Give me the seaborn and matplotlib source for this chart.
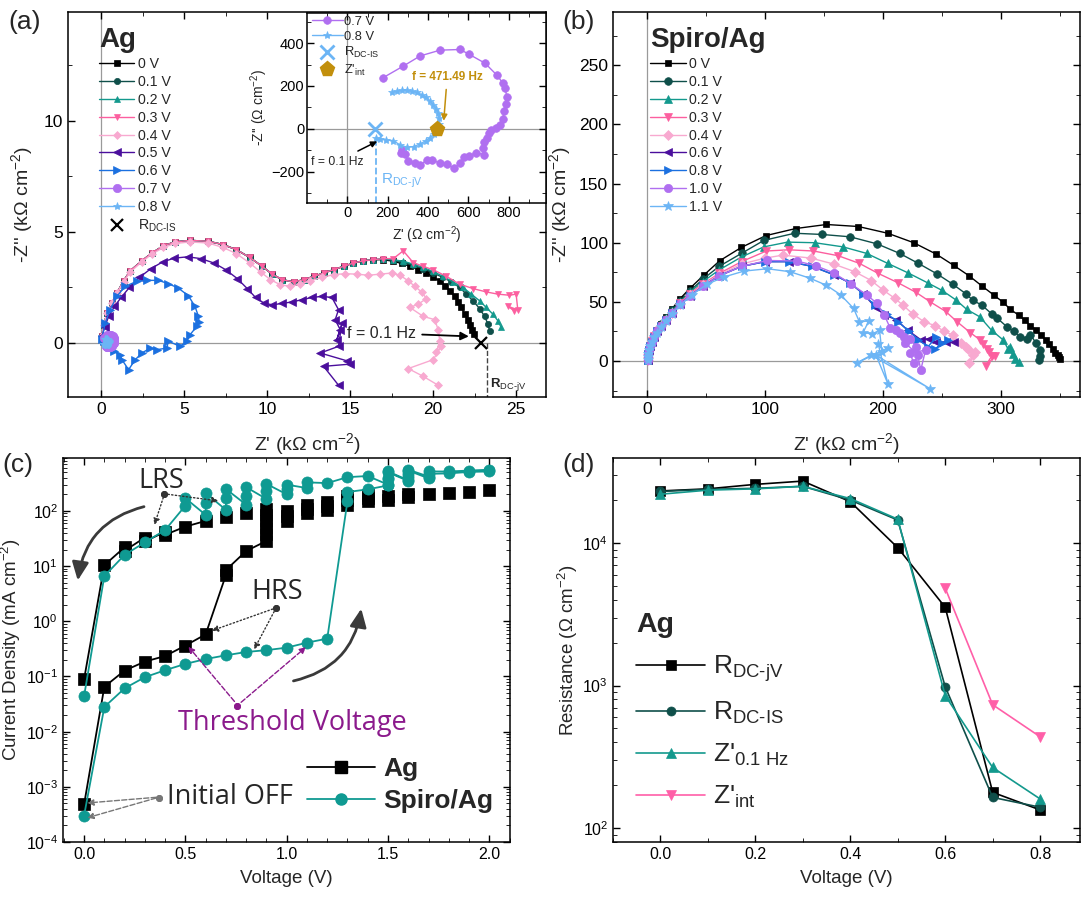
import matplotlib
matplotlib.use("Agg")
import matplotlib.pyplot as plt
import matplotlib.ticker as mticker
from matplotlib.lines import Line2D
from matplotlib.patches import FancyArrowPatch
import seaborn as sns

# ---------------- data ----------------
# (a) Ag impedance, kOhm cm^-2 ; shared first arc of 0-0.3 V
hump_x = [0.05, 0.15, 0.35, 0.65, 0.95, 1.35, 1.75, 2.45, 3.05, 3.75, 4.45, 5.35, 6.45, 7.35,
          8.15, 8.95, 9.7, 10.3, 10.9, 11.6, 12.2, 12.8, 13.4, 14.0, 14.6, 15.2, 15.8, 16.4]
hump_y = [0.3, 0.8, 1.35, 1.8, 2.25, 2.8, 3.25, 3.7, 4.05, 4.38, 4.55, 4.62, 4.58, 4.43,
          4.2, 3.85, 3.45, 3.1, 2.85, 2.75, 2.85, 3.0, 3.15, 3.3, 3.45, 3.6, 3.7, 3.75]
a00_tail_x = [17.0, 17.6, 18.1, 18.6, 19.1, 19.6, 20.0, 20.4, 20.7, 21.0, 21.3, 21.5, 21.7, 21.9, 22.1, 22.25, 22.35, 22.45]
a00_tail_y = [3.75, 3.68, 3.58, 3.45, 3.3, 3.15, 2.98, 2.78, 2.58, 2.35, 2.1, 1.85, 1.6, 1.3, 1.05, 0.8, 0.6, 0.42]
a01_tail_x = [17.0, 17.6, 18.2, 18.8, 19.4, 20.0, 20.6, 21.1, 21.6, 22.0, 22.4, 22.8, 23.1, 23.3, 23.4]
a01_tail_y = [3.78, 3.72, 3.62, 3.5, 3.35, 3.15, 2.95, 2.75, 2.5, 2.2, 1.9, 1.55, 1.2, 0.85, 0.55]
a02_tail_x = [17.0, 17.6, 18.2, 18.8, 19.4, 20.0, 20.6, 21.2, 21.8, 22.3, 22.8, 23.2, 23.6, 23.9, 24.1]
a02_tail_y = [3.8, 3.75, 3.68, 3.55, 3.4, 3.22, 3.0, 2.75, 2.5, 2.2, 1.9, 1.6, 1.3, 1.0, 0.7]
a03_tail_x = [17.0, 17.6, 18.2, 18.8, 19.4, 20.0, 20.8, 21.6, 22.4, 23.2, 23.9, 24.6, 25.0, 25.1, 24.5, 24.9]
a03_tail_y = [3.8, 3.8, 4.15, 3.62, 3.45, 3.3, 3.0, 2.65, 2.45, 2.3, 2.2, 2.15, 2.2, 1.5, 1.65, 1.45]
a04_x = [0.05, 0.15, 0.35, 0.65, 0.95, 1.35, 1.75, 2.45, 3.05, 3.75, 4.45, 5.35, 6.45, 7.35, 8.15, 8.95,
         9.6, 10.2, 10.8, 11.4, 12.0, 12.6, 13.3, 14.0, 14.7, 15.4, 16.1, 16.8, 17.5, 18.0, 18.5, 18.9,
         19.3, 19.6, 19.1, 18.6, 19.4, 20.1, 20.3, 20.4, 20.2, 20.5, 20.0, 18.5, 19.4, 20.3]
a04_y = [0.3, 0.8, 1.35, 1.8, 2.25, 2.75, 3.2, 3.65, 4.0, 4.3, 4.48, 4.55, 4.5, 4.3, 4.02, 3.6,
         3.2, 2.85, 2.62, 2.55, 2.65, 2.8, 2.95, 3.08, 3.12, 3.1, 3.05, 3.1, 3.15, 3.05, 2.8, 2.55,
         2.3, 2.0, 1.75, 1.6, 1.2, 1.05, 0.6, 0.1, -0.4, -0.15, -0.75, -1.15, -1.5, -1.9]
a05_x = [0.05, 0.2, 0.45, 0.8, 1.2, 1.7, 2.3, 3.0, 3.7, 4.4, 5.2, 6.0, 6.8, 7.5, 8.2, 8.8, 9.3, 9.8,
         10.3, 10.9, 11.5, 12.1, 12.7, 13.3, 13.9, 14.3, 14.1, 14.4, 14.2, 14.5, 14.3, 13.2, 14.8, 15.0, 13.4, 14.3]
a05_y = [0.3, 0.7, 1.2, 1.65, 2.05, 2.5, 2.95, 3.35, 3.65, 3.82, 3.88, 3.8, 3.6, 3.3, 2.9, 2.45, 2.05, 1.8,
         1.72, 1.78, 1.85, 1.95, 2.05, 2.1, 2.05, 1.5, 1.05, 0.6, 0.15, 0.9, -0.15, -0.45, -0.8, -0.95, -1.05, -1.9]
a06_x = [0.04, 0.24, 0.54, 0.94, 1.45, 2.15, 2.75, 3.45, 4.05, 4.65, 5.25, 5.65, 5.86, 5.9, 5.76,
         5.36, 5.16, 4.75, 4.05, 3.95, 3.35, 2.95, 2.45, 2.05, 1.65, 1.25, 1.15, 0.75, 0.44, 0.14]
a06_y = [0.2, 0.9, 1.5, 2.1, 2.55, 2.78, 2.82, 2.82, 2.67, 2.47, 2.13, 1.65, 1.2, 0.95, 0.75,
         0.38, 0.08, -0.15, 0.08, -0.23, -0.3, -0.23, -0.45, -0.75, -1.2, -0.75, -0.53, -0.38, -0.15, 0.08]
# inset, Ohm cm^-2
in07_x = [178, 278, 361, 460, 559, 605, 683, 741, 770, 783, 790, 785, 778, 770, 755, 735, 712, 700, 692,
          680, 675, 678, 640, 605, 580, 559, 528, 495, 460, 420, 394, 360, 336, 300, 286, 270, 268]
in07_y = [239, 293, 340, 367, 370, 347, 306, 251, 215, 190, 150, 115, 85, 45, 20, 5, -5, -20, -40,
          -60, -90, -120, -110, -125, -130, -160, -183, -165, -160, -145, -144, -170, -160, -150, -115, -100, -110]
in08_x = [141, 160, 190, 228, 262, 295, 330, 361, 390, 410, 428, 440, 450, 455, 452, 448, 440, 427,
          410, 390, 369, 345, 320, 295, 270, 245, 220]
in08_y = [-40, -45, -50, -55, -75, -85, -82, -70, -55, -40, -25, -10, 5, 25, 50, 75, 95, 112,
          130, 148, 160, 170, 176, 180, 180, 176, 170]
rdcis_kohm = 22.9
rdcjv_kohm = 23.25
rdcis_ohm = 137
rdcjv_ohm = 141
zint_ohm = 444

# (b) Spiro/Ag impedance, kOhm cm^-2
b00_x = [0.3, 0.6, 1, 1.5, 2.5, 4, 6, 8.5, 12, 16, 21, 27.6, 36.7, 48, 61.4, 79.8, 100.6, 126, 152, 179, 204,
         226, 245, 260, 273, 284, 294, 302, 308, 315, 320, 325, 330, 334, 338, 341, 344, 346, 348, 349, 350]
b00_y = [0.5, 3, 6, 9, 13, 17, 21, 26, 31, 37, 44, 52.4, 61.9, 72.6, 84.7, 96, 106, 112, 115.4, 113.7, 108,
         100, 90.4, 80.8, 72, 63.3, 55.7, 49.5, 43.6, 38.8, 34.6, 30, 26, 22, 18, 14, 10, 7, 5, 3, 1.5]
b01_x = [0.3, 0.6, 1, 1.5, 2.5, 4, 6, 8.5, 12, 16, 21, 28, 36, 47, 61, 80, 99, 125, 148, 172, 195, 214,
         230, 246, 259, 270, 276, 284, 292, 297, 305, 311, 316, 322, 325, 330, 333, 333, 332]
b01_y = [0.5, 3, 6, 9, 13, 17, 21, 26, 31, 36, 43, 51, 59, 69, 80, 91, 102, 108, 107, 105, 99, 91,
         82.5, 73.5, 65, 57, 51.5, 47, 40, 36, 29, 25, 20.5, 19, 22, 15, 9, 4, 1]
b02_x = [0.3, 0.6, 1, 1.5, 2.5, 4, 6, 8.5, 12, 16, 21, 28, 36, 47, 61, 80, 99, 119, 142, 166, 186, 204,
         221, 238, 250, 262, 271, 282, 292, 302, 306, 310, 312, 315, 308]
b02_y = [0.5, 3, 6, 9, 13, 17, 21, 26, 31, 36, 42, 50, 58, 67, 77, 88, 96.5, 100.5, 100, 96.5, 91, 82.5,
         74.6, 66, 59.7, 51.5, 43.6, 37.4, 26, 17.7, 10, 6, 2, -1, 12]
b03_x = [0.3, 0.6, 1, 1.5, 2.5, 4, 6, 8.5, 12, 16, 21, 28, 36, 47, 61, 80, 101, 120, 141, 162, 180, 196,
         213, 228, 240, 253, 263, 274, 282, 288, 292, 287, 295, 290, 285]
b03_y = [0.5, 3, 6, 9, 13, 17, 21, 25, 30, 35, 41, 49, 57, 65, 74, 84, 93, 94, 93, 89, 82.5, 74,
         66, 58, 50, 42, 33, 24, 18, 10, 4, -4, 4, 8, 14]
b04_x = [0.3, 0.6, 1, 1.5, 2.5, 4, 6, 8.5, 12, 16, 21, 28, 36, 47, 61, 80, 100, 115, 139, 158, 176, 190,
         200, 210, 217, 225, 235, 244, 252, 259, 266, 272, 276, 273, 278, 270]
b04_y = [0.5, 3, 6, 9, 13, 17, 21, 25, 30, 35, 41, 48, 56, 64, 73, 82, 87, 89.5, 87, 82, 75.5, 68,
         60, 53, 47, 40, 33, 30, 25, 22, 15, 10, 5, -2, 8, 12]
b06_x = [0.3, 0.6, 1, 1.5, 2.5, 4, 6, 8.5, 12, 16, 21, 28, 36, 47, 61, 80, 100, 120, 140, 158, 172, 183,
         193, 201, 211, 221, 232, 239, 245, 253, 260]
b06_y = [0.5, 3, 6, 9, 12.5, 16.5, 20.5, 25, 30, 35, 41, 48, 55, 63, 72, 80, 84, 84, 80, 73, 66, 57,
         46, 39, 35, 26, 18, 19, 16, 16, 16]
b08_x = [0.3, 0.6, 1, 1.5, 2.5, 4, 6, 8.5, 12, 16, 21, 28, 36, 47, 61, 80, 100, 120, 140, 158, 172, 183,
         193, 203, 213, 222, 230, 238, 245, 250, 244, 255]
b08_y = [0.5, 3, 6, 9, 12.5, 16.5, 20.5, 25, 30, 35, 41, 48, 55, 63, 72, 80, 84, 84, 80, 73, 66, 57,
         47, 40, 33, 25, 18, 12, 20, 15, 10, 18]
b10_x = [0.3, 0.6, 1, 1.5, 2.5, 4, 6, 8.5, 12, 16, 21, 28, 36, 47, 61, 80, 102, 127, 143, 158, 173, 186,
         195, 201, 206, 211, 218, 223, 228, 232, 236, 223, 226, 230, 219, 214]
b10_y = [0.5, 3, 6, 9, 12.5, 16.5, 20.5, 25, 30, 35, 41, 48, 55, 63, 72, 80, 85, 84.5, 80.5, 74.6, 65, 56,
         48.7, 39, 28, 26, 20.5, 19, 12, -7.6, 9.3, 6.5, -2, 5, 15, 24]
b11_x = [0.3, 0.6, 1, 1.5, 2.5, 4, 6, 8.5, 12, 16, 21, 28, 38, 51, 65, 82, 102, 121, 138, 152, 164, 175,
         180, 188, 183, 191, 197, 199, 204, 178, 190, 240, 194, 204, 196]
b11_y = [0.5, 3, 6, 9, 12.5, 16, 20, 24, 29, 34, 40, 47, 56, 65, 71, 76, 78, 75.5, 70, 64, 56, 44.5,
         33, 34, 24, 23, 26, 8, 11, -1.5, 5, -23.5, 5, -19, 14]

# (c) j-V, mA cm^-2
ag_fwd_v = [0.0, 0.1, 0.2, 0.3, 0.4, 0.5, 0.6, 0.7, 0.7, 0.8, 0.9, 0.9, 0.9, 0.9, 0.9, 0.9]
ag_fwd_j = [4.8e-4, 0.065, 0.128, 0.186, 0.235, 0.363, 0.58, 6.9, 8.5, 18.8, 28.6, 38, 50, 65, 85, 110]
ag_hi_v = [1.0, 1.0, 1.0, 1.1, 1.1, 1.1, 1.2, 1.2, 1.2, 1.3, 1.3, 1.3, 1.4, 1.4, 1.4, 1.5, 1.5,
           1.6, 1.6, 1.7, 1.8, 1.9, 2.0, 0.8, 0.7]
ag_hi_j = [65, 80, 100, 92, 110, 128, 105, 125, 145, 130, 160, 185, 150, 175, 195, 160, 190,
           180, 200, 205, 215, 225, 240, 90, 77]
ag_rev_v = [0.6, 0.5, 0.4, 0.4, 0.3, 0.3, 0.2, 0.2, 0.1, 0.0]
ag_rev_j = [66, 52, 37, 42, 28, 33, 19, 22, 10.4, 0.089]
sp_v = [0.0, 0.1, 0.2, 0.3, 0.4, 0.5, 0.6, 0.7, 0.8, 0.9, 1.0, 1.1, 1.2, 1.3, 1.3, 1.4, 1.5, 1.5, 1.5,
        1.6, 1.6, 1.6, 1.7, 1.7, 1.8, 1.9, 2.0, 2.0, 1.9, 1.8, 1.7, 1.7, 1.6, 1.6, 1.6, 1.5, 1.5, 1.5,
        1.4, 1.3, 1.2, 1.1, 1.1, 1.0, 1.0, 1.0, 0.9, 0.9, 0.9, 0.8, 0.8, 0.8, 0.7, 0.7, 0.7,
        0.6, 0.6, 0.6, 0.5, 0.5, 0.4, 0.3, 0.2, 0.1, 0.0]
sp_j = [3.0e-4, 0.028, 0.061, 0.097, 0.13, 0.169, 0.207, 0.242, 0.278, 0.30, 0.333, 0.41, 0.485, 152, 220,
        247, 290, 400, 520, 360, 460, 560, 420, 520, 520, 540, 560, 520, 510, 480, 470, 390, 540, 420, 350,
        500, 380, 300, 430, 410, 320, 330, 260, 300, 250, 200, 310, 230, 165, 270, 190, 130, 250, 170, 105,
        210, 140, 85, 170, 125, 45, 27, 16, 6.6, 0.044]

# (d) resistance vs voltage, Ohm cm^-2
d_v = [0.0, 0.1, 0.2, 0.3, 0.4, 0.5, 0.6, 0.7, 0.8]
r_dcjv = [23200, 24000, 25800, 27200, 19500, 9270, 3540, 178, 134]
r_dcis = [23000, 23800, 24200, 25000, 20000, 14500, 980, 164, 140]
z_01hz = [22000, 23500, 24000, 25000, 20500, 14700, 850, 266, 160]
zint_v = [0.6, 0.7, 0.8]
z_int = [4820, 733, 437]

# ---------------- style ----------------
sns.set_style("ticks")
plt.rcParams['font.family'] = ['Liberation Sans', 'DejaVu Sans']
plt.rcParams.update({
    'mathtext.fontset': 'custom',
    'mathtext.rm': 'Liberation Sans',
    'mathtext.it': 'Liberation Sans:italic',
    'mathtext.bf': 'Liberation Sans:bold',
    'xtick.direction': 'in', 'ytick.direction': 'in',
    'xtick.top': True, 'ytick.right': True,
    'axes.linewidth': 1.1,
    'xtick.major.size': 5, 'ytick.major.size': 5,
    'xtick.minor.size': 3, 'ytick.minor.size': 3,
    'xtick.major.width': 1.0, 'ytick.major.width': 1.0,
    'xtick.color': 'black', 'ytick.color': 'black',
    'axes.edgecolor': 'black',
})

BLACK = 'black'
DTEAL = '#0f4f4a'
TEAL = '#13998d'
PINK = '#fc5f9f'
LPINK = '#f8a9d0'
INDIGO = '#4a0e9c'
BLUE = '#1b70e0'
LAV = '#b06ff0'
LBLUE = '#6cb5f5'
GOLD = '#c28f0c'
PURPLE = '#8b1a8c'
SPIRO = '#0f9a92'
GREY = '#9a9a9a'

W, H = 1086, 898
fig = plt.figure(figsize=(W / 100, H / 100), dpi=100)


def px_axes(l, t, r, b):
    return fig.add_axes([l / W, 1 - b / H, (r - l) / W, (b - t) / H])


def curve(ax, x, y, color, marker, ms, label=None, lw=1.0, z=2):
    sns.lineplot(x=x, y=y, ax=ax, sort=False, estimator=None, color=color,
                 marker=marker, markersize=ms, markeredgecolor=color,
                 markeredgewidth=0.5, linewidth=lw, label=label, legend=False, zorder=z)


sub_is = r"R$_{\rm DC\text{-}IS}$"
sub_jv = r"R$_{\rm DC\text{-}jV}$"

# ---------------- (a) ----------------
ax_a = px_axes(68, 12, 546, 397)
ax_a.axhline(0, color=GREY, lw=0.9, zorder=0)
ax_a.axvline(0, color=GREY, lw=0.9, zorder=0)
curve(ax_a, hump_x + a00_tail_x, hump_y + a00_tail_y, BLACK, 's', 4.5, '0 V')
curve(ax_a, hump_x + a01_tail_x, hump_y + a01_tail_y, DTEAL, 'o', 4.5, '0.1 V')
curve(ax_a, hump_x + a02_tail_x, hump_y + a02_tail_y, TEAL, '^', 5, '0.2 V')
curve(ax_a, hump_x + a03_tail_x, hump_y + a03_tail_y, PINK, 'v', 5, '0.3 V')
curve(ax_a, a04_x, a04_y, LPINK, 'D', 4, '0.4 V')
curve(ax_a, a05_x, a05_y, INDIGO, '<', 5.5, '0.5 V')
curve(ax_a, a06_x, a06_y, BLUE, '>', 5.5, '0.6 V')
curve(ax_a, [v / 1000 for v in in07_x], [v / 1000 for v in in07_y], LAV, 'o', 6, '0.7 V')
curve(ax_a, [v / 1000 for v in in08_x], [v / 1000 for v in in08_y], LBLUE, '*', 6, '0.8 V')
ax_a.plot([rdcis_kohm], [0], marker='x', color=BLACK, ms=9, mew=1.6, ls='none', zorder=4)
ax_a.plot([rdcjv_kohm, rdcjv_kohm], [0, -2.45], color='#444444', ls='--', lw=1.0, zorder=1)
ax_a.text(23.45, -1.85, sub_jv, fontsize=9.5, fontweight='bold', va='center', ha='left')
ax_a.annotate('f = 0.1 Hz', xy=(22.15, 0.3), xytext=(16.9, 0.45), fontsize=11.5, ha='center', va='center',
              zorder=6,
              arrowprops=dict(arrowstyle='-|>', color='black', lw=1.3, shrinkA=2, shrinkB=0, mutation_scale=12))
ax_a.set_xlim(-2, 26.8)
ax_a.set_ylim(-2.43, 14.9)
ax_a.xaxis.set_major_locator(mticker.MultipleLocator(5))
ax_a.xaxis.set_minor_locator(mticker.MultipleLocator(2.5))
ax_a.yaxis.set_major_locator(mticker.MultipleLocator(5))
ax_a.yaxis.set_minor_locator(mticker.MultipleLocator(2.5))
ax_a.tick_params(labelsize=12.5)
ax_a.set_xlabel("Z' (k\u03a9 cm$^{-2}$)", fontsize=14, labelpad=10)
ax_a.set_ylabel("-Z'' (k\u03a9 cm$^{-2}$)", fontsize=14, labelpad=6)
h, l = ax_a.get_legend_handles_labels()
h.append(Line2D([], [], color=BLACK, marker='x', ls='none', ms=9, mew=1.6))
l.append(sub_is)
ax_a.legend(h, l, title='Ag', loc='upper left', bbox_to_anchor=(0.065, 0.96), frameon=False,
            fontsize=10.2, handlelength=2.5, handletextpad=0.25, labelspacing=0.27, borderaxespad=0,
            borderpad=0, alignment='left', title_fontproperties={'weight': 'bold', 'size': 20})

# inset
ax_in = px_axes(307, 13, 546, 203)
ax_in.set_zorder(5)
ax_in.axhline(0, color=GREY, lw=0.9, zorder=0)
ax_in.axvline(0, color=GREY, lw=0.9, zorder=0)
curve(ax_in, in07_x, in07_y, LAV, 'o', 5.5, '0.7 V')
curve(ax_in, in08_x, in08_y, LBLUE, '*', 6, '0.8 V')
ax_in.plot([rdcjv_ohm, rdcjv_ohm], [-45, -345], color=LBLUE, ls='--', lw=1.3, zorder=1)
ax_in.plot([rdcis_ohm], [0], marker='x', color=LBLUE, ms=10, mew=2, ls='none', zorder=4)
ax_in.plot([zint_ohm], [0], marker='p', color=GOLD, ms=11, ls='none', zorder=4)
ax_in.annotate('f = 471.49 Hz', xy=(478, 38), xytext=(495, 240), fontsize=8.5, fontweight='bold', color=GOLD,
               ha='center', va='center',
               arrowprops=dict(arrowstyle='-|>', color=GOLD, lw=1.1, shrinkA=2, shrinkB=0, mutation_scale=9))
ax_in.annotate('f = 0.1 Hz', xy=(148, -58), xytext=(-52, -152), fontsize=8.7, ha='center', va='center',
               arrowprops=dict(arrowstyle='-|>', color='black', lw=1.1, shrinkA=2, shrinkB=0, mutation_scale=9))
ax_in.text(165, -240, sub_jv, fontsize=11, color=LBLUE, ha='left', va='center')
ax_in.set_xlim(-200, 985)
ax_in.set_ylim(-345, 540)
ax_in.xaxis.set_major_locator(mticker.FixedLocator([0, 200, 400, 600, 800]))
ax_in.xaxis.set_minor_locator(mticker.FixedLocator([-100, 100, 300, 500, 700, 900]))
ax_in.yaxis.set_major_locator(mticker.FixedLocator([-200, 0, 200, 400]))
ax_in.yaxis.set_minor_locator(mticker.FixedLocator([-300, -100, 100, 300, 500]))
ax_in.tick_params(labelsize=10.5, pad=2)
ax_in.set_xlabel("Z' (\u03a9 cm$^{-2}$)", fontsize=10, labelpad=3)
ax_in.set_ylabel("-Z'' (\u03a9 cm$^{-2}$)", fontsize=10, labelpad=1)
h, l = ax_in.get_legend_handles_labels()
h += [Line2D([], [], color=LBLUE, marker='x', ls='none', ms=10, mew=2),
      Line2D([], [], color=GOLD, marker='p', ls='none', ms=11)]
l += [sub_is, "Z'$_{\\rm int}$"]
ax_in.legend(h, l, loc='upper left', bbox_to_anchor=(0.02, 0.985), frameon=False, fontsize=9.3,
             handlelength=2.4, handletextpad=0.1, labelspacing=0.2, borderaxespad=0, borderpad=0)

# ---------------- (b) ----------------
ax_b = px_axes(613, 12, 1080, 397)
ax_b.axhline(0, color=GREY, lw=0.9, zorder=0)
ax_b.axvline(0, color=GREY, lw=0.9, zorder=0)
curve(ax_b, b00_x, b00_y, BLACK, 's', 5, '0 V')
curve(ax_b, b01_x, b01_y, DTEAL, 'o', 5.5, '0.1 V')
curve(ax_b, b02_x, b02_y, TEAL, '^', 6, '0.2 V')
curve(ax_b, b03_x, b03_y, PINK, 'v', 6, '0.3 V')
curve(ax_b, b04_x, b04_y, LPINK, 'D', 5, '0.4 V')
curve(ax_b, b06_x, b06_y, INDIGO, '<', 6, '0.6 V')
curve(ax_b, b08_x, b08_y, BLUE, '>', 6, '0.8 V')
curve(ax_b, b10_x, b10_y, LAV, 'o', 6, '1.0 V')
curve(ax_b, b11_x, b11_y, LBLUE, '*', 7, '1.1 V')
ax_b.set_xlim(-29, 367)
ax_b.set_ylim(-30.4, 295)
ax_b.xaxis.set_major_locator(mticker.MultipleLocator(100))
ax_b.xaxis.set_minor_locator(mticker.MultipleLocator(50))
ax_b.yaxis.set_major_locator(mticker.MultipleLocator(50))
ax_b.yaxis.set_minor_locator(mticker.MultipleLocator(25))
ax_b.tick_params(labelsize=12.5)
ax_b.set_xlabel("Z' (k\u03a9 cm$^{-2}$)", fontsize=14, labelpad=10)
ax_b.set_ylabel("-Z'' (k\u03a9 cm$^{-2}$)", fontsize=14, labelpad=4)
h, l = ax_b.get_legend_handles_labels()
ax_b.legend(h, l, title='Spiro/Ag', loc='upper left', bbox_to_anchor=(0.08, 0.96), frameon=False,
            fontsize=10.2, handlelength=2.5, handletextpad=0.25, labelspacing=0.27, borderaxespad=0,
            borderpad=0, alignment='left', title_fontproperties={'weight': 'bold', 'size': 20})

# ---------------- (c) ----------------
ax_c = px_axes(63, 458, 510, 842)
ax_c.set_yscale('log')
curve(ax_c, ag_fwd_v, ag_fwd_j, BLACK, 's', 8, lw=1.3)
sns.scatterplot(x=ag_hi_v, y=ag_hi_j, marker='s', s=64, color=BLACK, edgecolor=BLACK,
                linewidth=0.5, ax=ax_c, zorder=2, legend=False)
curve(ax_c, ag_rev_v, ag_rev_j, BLACK, 's', 8, lw=1.3)
curve(ax_c, sp_v, sp_j, SPIRO, 'o', 8, lw=1.3, z=3)
ax_c.set_xlim(-0.104, 2.102)
ax_c.set_ylim(1e-4, 912)
ax_c.xaxis.set_major_locator(mticker.MultipleLocator(0.5))
ax_c.xaxis.set_minor_locator(mticker.MultipleLocator(0.1))
ax_c.yaxis.set_major_locator(mticker.LogLocator(base=10, numticks=12))
ax_c.yaxis.set_minor_locator(mticker.LogLocator(base=10, subs=range(2, 10), numticks=12))
ax_c.yaxis.set_minor_formatter(mticker.NullFormatter())
ax_c.xaxis.set_major_formatter(mticker.FormatStrFormatter('%.1f'))
ax_c.tick_params(labelsize=11.5)
ax_c.set_xlabel("Voltage (V)", fontsize=13.5, labelpad=6)
ax_c.set_ylabel("Current Density (mA cm$^{-2}$)", fontsize=13.5, labelpad=2)

ann_font = dict(fontfamily='Open Sans', fontsize=19.5)
ax_c.text(0.38, 350, 'LRS', ha='center', va='center', **ann_font)
ax_c.text(0.955, 3.4, 'HRS', ha='center', va='center', **ann_font)
ax_c.text(1.03, 0.0141, 'Threshold Voltage', ha='center', va='center', color=PURPLE, **ann_font)
ax_c.text(0.41, 6.6e-4, 'Initial OFF', ha='left', va='center', **ann_font)


def pointer(src, dst, color, ls):
    ax_c.plot([src[0]], [src[1]], marker='o', ms=4, color=color, zorder=5)
    ax_c.annotate(' ', xy=dst, xytext=src, fontsize=1,
                  arrowprops=dict(arrowstyle='-|>', color=color, lw=1.0, ls=ls,
                                  shrinkA=0, shrinkB=0, mutation_scale=9), zorder=5)


pointer((0.396, 200), (0.347, 56), '#333333', ':')
pointer((0.396, 200), (0.663, 152), '#333333', ':')
pointer((0.947, 1.72), (0.63, 0.676), '#333333', ':')
pointer((0.947, 1.72), (0.839, 0.31), '#333333', ':')
pointer((0.757, 0.0295), (0.515, 0.347), PURPLE, '--')
pointer((0.757, 0.0295), (1.095, 0.34), PURPLE, '--')
pointer((0.372, 6.4e-4), (0.016, 5.1e-4), '#777777', '--')
pointer((0.372, 6.4e-4), (0.016, 2.75e-4), '#777777', '--')
for a, b in [((0.309, 123), (-0.033, 4.9)), ((1.02, 0.081), (1.37, 1.9))]:
    ax_c.add_patch(FancyArrowPatch(a, b, connectionstyle='arc3,rad=0.35',
                                   arrowstyle='-|>,head_length=0.55,head_width=0.25', mutation_scale=20,
                                   color='#3a3a3a', lw=2.0, zorder=5))
hc = [Line2D([], [], color=BLACK, marker='s', ms=8, lw=1.3),
      Line2D([], [], color=SPIRO, marker='o', ms=8, lw=1.3)]
ax_c.legend(hc, ['Ag', 'Spiro/Ag'], loc='lower left', bbox_to_anchor=(0.545, 0.075), frameon=False,
            prop={'weight': 'bold', 'size': 19}, handlelength=2.6, handletextpad=0.3,
            labelspacing=0.3, borderaxespad=0, borderpad=0)

# ---------------- (d) ----------------
ax_d = px_axes(613, 458, 1080, 842)
ax_d.set_yscale('log')
curve(ax_d, d_v, r_dcjv, BLACK, 's', 6.5, sub_jv, lw=1.2)
curve(ax_d, d_v, r_dcis, DTEAL, 'o', 6.5, sub_is, lw=1.2)
curve(ax_d, d_v, z_01hz, TEAL, '^', 7, "Z'$_{\\rm 0.1\\ Hz}$", lw=1.2)
curve(ax_d, zint_v, z_int, '#ff5fa8', 'v', 7, "Z'$_{\\rm int}$", lw=1.2)
ax_d.set_xlim(-0.1, 0.884)
ax_d.set_ylim(79.8, 39500)
ax_d.xaxis.set_major_locator(mticker.MultipleLocator(0.2))
ax_d.xaxis.set_minor_locator(mticker.MultipleLocator(0.1))
ax_d.yaxis.set_minor_locator(mticker.LogLocator(base=10, subs=range(2, 10), numticks=12))
ax_d.yaxis.set_minor_formatter(mticker.NullFormatter())
ax_d.xaxis.set_major_formatter(mticker.FormatStrFormatter('%.1f'))
ax_d.tick_params(labelsize=11.5)
ax_d.set_xlabel("Voltage (V)", fontsize=13.5, labelpad=6)
ax_d.set_ylabel("Resistance (\u03a9 cm$^{-2}$)", fontsize=13.5, labelpad=2)
h, l = ax_d.get_legend_handles_labels()
ax_d.legend(h, l, title='Ag', loc='upper left', bbox_to_anchor=(0.05, 0.6), frameon=False,
            fontsize=19, handlelength=2.6, handletextpad=0.3, labelspacing=0.6, borderaxespad=0,
            borderpad=0, alignment='left', title_fontproperties={'weight': 'bold', 'size': 20.5})

# panel letters
for txt, x, y in [('(a)', 8, 22), ('(b)', 562, 22), ('(c)', 2, 465), ('(d)', 562, 465)]:
    fig.text(x / W, 1 - y / H, txt, fontsize=19, va='center', ha='left')

fig.savefig('out.png', dpi=100)
